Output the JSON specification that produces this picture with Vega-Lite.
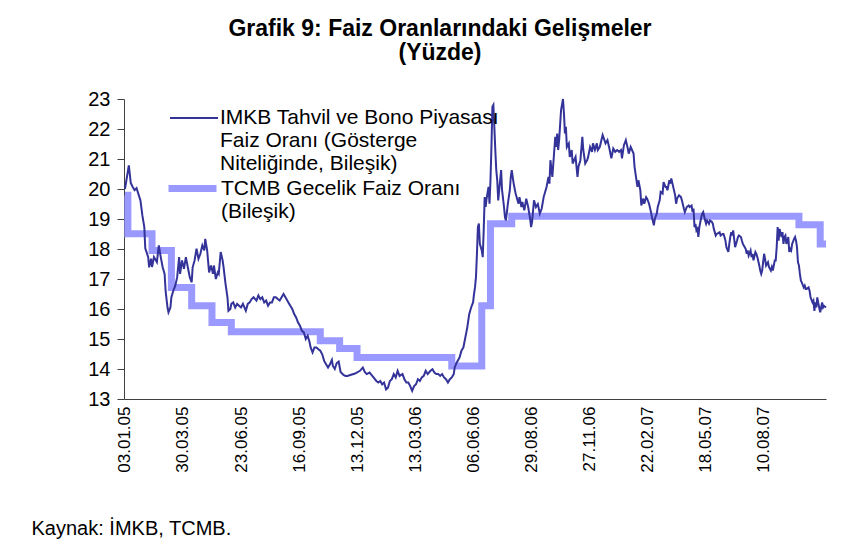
{
  "$schema": "https://vega.github.io/schema/vega-lite/v6.json",
  "width": 702,
  "height": 300,
  "autosize": {"type": "none"},
  "padding": {"left": 124, "top": 99, "right": 42, "bottom": 147},
  "background": "white",
  "title": {
    "text": ["Grafik 9: Faiz Oranlarındaki Gelişmeler", "(Yüzde)"],
    "font": "Liberation Sans",
    "fontSize": 23,
    "fontWeight": "bold",
    "color": "black",
    "anchor": "middle",
    "frame": "group",
    "dx": -35,
    "offset": 24,
    "lineHeight": 24
  },
  "config": {
    "view": {"stroke": null},
    "font": "Liberation Sans",
    "axis": {"labelColor": "black", "domainColor": "#404040", "tickColor": "#404040", "grid": false, "labelFont": "Liberation Sans", "titleFont": "Liberation Sans"}
  },
  "data": {"values": [
    {"s":"T","g":0,"v":19.79},{"s":"T","g":3,"v":18.51},{"s":"T","g":28,"v":17.95},{"s":"T","g":48,"v":16.72},{"s":"T","g":69,"v":16.11},{"s":"T","g":90,"v":15.55},{"s":"T","g":110,"v":15.24},{"s":"T","g":202,"v":14.94},{"s":"T","g":222,"v":14.68},{"s":"T","g":240,"v":14.38},{"s":"T","g":338,"v":14.1},{"s":"T","g":369,"v":16.11},{"s":"T","g":378,"v":18.84},{"s":"T","g":400,"v":19.09},{"s":"T","g":697,"v":18.81},{"s":"T","g":719,"v":18.17},{"s":"T","g":725,"v":18.17},
    {"s":"I","g":0,"v":20.0},{"s":"I","g":4,"v":20.79},{"s":"I","g":6,"v":20.2},{"s":"I","g":8,"v":20.07},{"s":"I","g":10,"v":19.96},{"s":"I","g":12,"v":20.03},{"s":"I","g":16,"v":19.62},{"s":"I","g":18,"v":19.12},{"s":"I","g":20,"v":18.73},{"s":"I","g":21,"v":18.02},{"s":"I","g":24,"v":17.73},{"s":"I","g":25,"v":17.39},{"s":"I","g":27,"v":17.68},{"s":"I","g":28,"v":17.4},{"s":"I","g":30,"v":17.73},{"s":"I","g":33,"v":17.56},{"s":"I","g":35,"v":18.12},{"s":"I","g":37,"v":17.73},{"s":"I","g":39,"v":17.39},{"s":"I","g":41,"v":17.17},{"s":"I","g":42,"v":16.61},{"s":"I","g":44,"v":16.05},{"s":"I","g":45,"v":15.89},{"s":"I","g":47,"v":16.05},{"s":"I","g":48,"v":16.39},{"s":"I","g":50,"v":16.61},{"s":"I","g":52,"v":16.78},{"s":"I","g":54,"v":17.06},{"s":"I","g":56,"v":17.73},{"s":"I","g":57,"v":17.17},{"s":"I","g":59,"v":17.62},{"s":"I","g":61,"v":17.34},{"s":"I","g":63,"v":17.73},{"s":"I","g":65,"v":17.39},{"s":"I","g":67,"v":17.06},{"s":"I","g":69,"v":16.89},{"s":"I","g":70,"v":17.39},{"s":"I","g":72,"v":17.62},{"s":"I","g":74,"v":18.01},{"s":"I","g":76,"v":17.67},{"s":"I","g":78,"v":17.84},{"s":"I","g":80,"v":18.12},{"s":"I","g":82,"v":17.95},{"s":"I","g":83,"v":18.34},{"s":"I","g":85,"v":17.95},{"s":"I","g":87,"v":17.22},{"s":"I","g":89,"v":17.45},{"s":"I","g":91,"v":17.17},{"s":"I","g":92,"v":17.45},{"s":"I","g":94,"v":17.0},{"s":"I","g":96,"v":17.22},{"s":"I","g":97,"v":17.17},{"s":"I","g":99,"v":17.9},{"s":"I","g":101,"v":17.62},{"s":"I","g":102,"v":17.39},{"s":"I","g":104,"v":16.84},{"s":"I","g":106,"v":16.39},{"s":"I","g":107,"v":15.94},{"s":"I","g":109,"v":16.0},{"s":"I","g":110,"v":16.17},{"s":"I","g":112,"v":16.22},{"s":"I","g":114,"v":16.05},{"s":"I","g":116,"v":16.17},{"s":"I","g":118,"v":16.11},{"s":"I","g":120,"v":16.05},{"s":"I","g":122,"v":16.17},{"s":"I","g":125,"v":15.94},{"s":"I","g":127,"v":16.17},{"s":"I","g":129,"v":16.22},{"s":"I","g":131,"v":16.33},{"s":"I","g":133,"v":16.39},{"s":"I","g":136,"v":16.28},{"s":"I","g":138,"v":16.45},{"s":"I","g":140,"v":16.33},{"s":"I","g":142,"v":16.39},{"s":"I","g":144,"v":16.22},{"s":"I","g":146,"v":16.28},{"s":"I","g":148,"v":16.11},{"s":"I","g":150,"v":16.22},{"s":"I","g":152,"v":16.22},{"s":"I","g":154,"v":16.39},{"s":"I","g":156,"v":16.39},{"s":"I","g":158,"v":16.33},{"s":"I","g":160,"v":16.28},{"s":"I","g":162,"v":16.39},{"s":"I","g":164,"v":16.5},{"s":"I","g":167,"v":16.33},{"s":"I","g":169,"v":16.22},{"s":"I","g":171,"v":16.11},{"s":"I","g":173,"v":16.0},{"s":"I","g":175,"v":15.83},{"s":"I","g":177,"v":15.72},{"s":"I","g":179,"v":15.55},{"s":"I","g":181,"v":15.44},{"s":"I","g":183,"v":15.27},{"s":"I","g":185,"v":15.22},{"s":"I","g":187,"v":15.0},{"s":"I","g":189,"v":15.11},{"s":"I","g":191,"v":14.88},{"s":"I","g":192,"v":14.72},{"s":"I","g":194,"v":14.55},{"s":"I","g":196,"v":14.72},{"s":"I","g":198,"v":14.72},{"s":"I","g":200,"v":14.66},{"s":"I","g":202,"v":14.61},{"s":"I","g":204,"v":14.49},{"s":"I","g":206,"v":14.27},{"s":"I","g":208,"v":14.16},{"s":"I","g":210,"v":14.05},{"s":"I","g":212,"v":14.16},{"s":"I","g":214,"v":14.3},{"s":"I","g":215,"v":14.1},{"s":"I","g":217,"v":14.0},{"s":"I","g":219,"v":14.2},{"s":"I","g":221,"v":14.25},{"s":"I","g":223,"v":13.9},{"s":"I","g":226,"v":13.8},{"s":"I","g":228,"v":13.77},{"s":"I","g":230,"v":13.77},{"s":"I","g":233,"v":13.8},{"s":"I","g":238,"v":13.85},{"s":"I","g":243,"v":13.94},{"s":"I","g":246,"v":14.05},{"s":"I","g":248,"v":13.9},{"s":"I","g":250,"v":13.83},{"s":"I","g":253,"v":13.88},{"s":"I","g":257,"v":13.72},{"s":"I","g":260,"v":13.6},{"s":"I","g":262,"v":13.55},{"s":"I","g":264,"v":13.6},{"s":"I","g":266,"v":13.49},{"s":"I","g":268,"v":13.55},{"s":"I","g":270,"v":13.32},{"s":"I","g":272,"v":13.38},{"s":"I","g":274,"v":13.6},{"s":"I","g":276,"v":13.66},{"s":"I","g":278,"v":13.83},{"s":"I","g":280,"v":13.72},{"s":"I","g":282,"v":13.94},{"s":"I","g":284,"v":13.77},{"s":"I","g":287,"v":13.83},{"s":"I","g":289,"v":13.66},{"s":"I","g":291,"v":13.55},{"s":"I","g":293,"v":13.55},{"s":"I","g":295,"v":13.43},{"s":"I","g":297,"v":13.27},{"s":"I","g":299,"v":13.43},{"s":"I","g":301,"v":13.49},{"s":"I","g":303,"v":13.66},{"s":"I","g":305,"v":13.6},{"s":"I","g":307,"v":13.72},{"s":"I","g":309,"v":13.77},{"s":"I","g":311,"v":13.94},{"s":"I","g":313,"v":13.83},{"s":"I","g":316,"v":13.94},{"s":"I","g":318,"v":13.99},{"s":"I","g":320,"v":13.88},{"s":"I","g":322,"v":13.83},{"s":"I","g":324,"v":13.83},{"s":"I","g":326,"v":13.77},{"s":"I","g":328,"v":13.83},{"s":"I","g":330,"v":13.72},{"s":"I","g":332,"v":13.66},{"s":"I","g":334,"v":13.55},{"s":"I","g":336,"v":13.66},{"s":"I","g":338,"v":13.72},{"s":"I","g":340,"v":13.83},{"s":"I","g":341,"v":14.05},{"s":"I","g":343,"v":14.21},{"s":"I","g":346,"v":14.38},{"s":"I","g":348,"v":14.61},{"s":"I","g":350,"v":14.72},{"s":"I","g":352,"v":15.05},{"s":"I","g":354,"v":15.38},{"s":"I","g":356,"v":15.83},{"s":"I","g":358,"v":16.05},{"s":"I","g":360,"v":16.22},{"s":"I","g":361,"v":16.5},{"s":"I","g":362,"v":16.72},{"s":"I","g":363,"v":17.06},{"s":"I","g":364,"v":17.84},{"s":"I","g":365,"v":18.73},{"s":"I","g":366,"v":18.85},{"s":"I","g":367,"v":18.17},{"s":"I","g":369,"v":17.95},{"s":"I","g":370,"v":17.73},{"s":"I","g":371,"v":18.62},{"s":"I","g":372,"v":19.73},{"s":"I","g":373,"v":19.4},{"s":"I","g":374,"v":19.68},{"s":"I","g":376,"v":20.07},{"s":"I","g":377,"v":19.51},{"s":"I","g":378,"v":20.29},{"s":"I","g":379,"v":21.4},{"s":"I","g":380,"v":22.74},{"s":"I","g":381,"v":22.8},{"s":"I","g":382,"v":22.07},{"s":"I","g":383,"v":21.3},{"s":"I","g":384,"v":20.63},{"s":"I","g":385,"v":20.29},{"s":"I","g":386,"v":19.62},{"s":"I","g":388,"v":20.29},{"s":"I","g":389,"v":20.63},{"s":"I","g":390,"v":19.96},{"s":"I","g":392,"v":19.4},{"s":"I","g":393,"v":19.06},{"s":"I","g":394,"v":18.95},{"s":"I","g":396,"v":19.51},{"s":"I","g":398,"v":19.96},{"s":"I","g":399,"v":20.4},{"s":"I","g":400,"v":20.63},{"s":"I","g":401,"v":20.4},{"s":"I","g":402,"v":20.18},{"s":"I","g":404,"v":19.85},{"s":"I","g":407,"v":19.51},{"s":"I","g":408,"v":19.73},{"s":"I","g":410,"v":19.4},{"s":"I","g":411,"v":19.57},{"s":"I","g":413,"v":19.29},{"s":"I","g":415,"v":19.68},{"s":"I","g":417,"v":19.4},{"s":"I","g":419,"v":19.01},{"s":"I","g":420,"v":18.73},{"s":"I","g":421,"v":18.9},{"s":"I","g":423,"v":19.62},{"s":"I","g":425,"v":19.4},{"s":"I","g":427,"v":19.5},{"s":"I","g":429,"v":19.18},{"s":"I","g":431,"v":19.35},{"s":"I","g":433,"v":19.73},{"s":"I","g":436,"v":20.07},{"s":"I","g":438,"v":20.4},{"s":"I","g":439,"v":20.18},{"s":"I","g":440,"v":20.96},{"s":"I","g":442,"v":20.4},{"s":"I","g":443,"v":20.85},{"s":"I","g":445,"v":21.74},{"s":"I","g":446,"v":21.4},{"s":"I","g":447,"v":21.85},{"s":"I","g":448,"v":21.3},{"s":"I","g":449,"v":21.63},{"s":"I","g":451,"v":22.63},{"s":"I","g":453,"v":23.0},{"s":"I","g":454,"v":22.52},{"s":"I","g":455,"v":21.85},{"s":"I","g":456,"v":22.07},{"s":"I","g":457,"v":21.4},{"s":"I","g":459,"v":21.52},{"s":"I","g":460,"v":21.07},{"s":"I","g":462,"v":21.3},{"s":"I","g":463,"v":20.85},{"s":"I","g":466,"v":21.07},{"s":"I","g":468,"v":20.4},{"s":"I","g":469,"v":20.74},{"s":"I","g":471,"v":20.96},{"s":"I","g":473,"v":21.74},{"s":"I","g":474,"v":21.3},{"s":"I","g":476,"v":20.85},{"s":"I","g":478,"v":20.96},{"s":"I","g":479,"v":21.07},{"s":"I","g":481,"v":21.4},{"s":"I","g":483,"v":21.24},{"s":"I","g":484,"v":21.52},{"s":"I","g":486,"v":21.3},{"s":"I","g":488,"v":21.52},{"s":"I","g":489,"v":21.3},{"s":"I","g":491,"v":21.4},{"s":"I","g":494,"v":21.8},{"s":"I","g":497,"v":21.52},{"s":"I","g":499,"v":21.63},{"s":"I","g":501,"v":21.35},{"s":"I","g":503,"v":21.02},{"s":"I","g":505,"v":21.35},{"s":"I","g":507,"v":21.24},{"s":"I","g":509,"v":21.3},{"s":"I","g":511,"v":21.24},{"s":"I","g":513,"v":21.3},{"s":"I","g":514,"v":21.02},{"s":"I","g":516,"v":21.46},{"s":"I","g":518,"v":21.63},{"s":"I","g":520,"v":21.35},{"s":"I","g":521,"v":21.18},{"s":"I","g":523,"v":21.4},{"s":"I","g":526,"v":21.18},{"s":"I","g":527,"v":20.74},{"s":"I","g":529,"v":20.29},{"s":"I","g":530,"v":20.07},{"s":"I","g":531,"v":20.29},{"s":"I","g":533,"v":19.96},{"s":"I","g":534,"v":19.45},{"s":"I","g":536,"v":19.68},{"s":"I","g":537,"v":19.51},{"s":"I","g":539,"v":19.73},{"s":"I","g":540,"v":19.68},{"s":"I","g":542,"v":19.51},{"s":"I","g":544,"v":19.23},{"s":"I","g":545,"v":19.06},{"s":"I","g":547,"v":18.79},{"s":"I","g":548,"v":19.01},{"s":"I","g":550,"v":19.18},{"s":"I","g":551,"v":19.4},{"s":"I","g":553,"v":19.62},{"s":"I","g":554,"v":19.9},{"s":"I","g":556,"v":19.85},{"s":"I","g":557,"v":20.23},{"s":"I","g":559,"v":20.07},{"s":"I","g":560,"v":20.07},{"s":"I","g":561,"v":19.96},{"s":"I","g":563,"v":20.29},{"s":"I","g":564,"v":20.18},{"s":"I","g":565,"v":20.35},{"s":"I","g":567,"v":20.07},{"s":"I","g":569,"v":19.79},{"s":"I","g":570,"v":19.51},{"s":"I","g":571,"v":19.68},{"s":"I","g":573,"v":19.79},{"s":"I","g":575,"v":19.73},{"s":"I","g":576,"v":19.62},{"s":"I","g":578,"v":19.35},{"s":"I","g":579,"v":19.23},{"s":"I","g":581,"v":19.4},{"s":"I","g":583,"v":19.45},{"s":"I","g":584,"v":19.4},{"s":"I","g":586,"v":19.45},{"s":"I","g":587,"v":19.23},{"s":"I","g":588,"v":19.35},{"s":"I","g":589,"v":18.73},{"s":"I","g":590,"v":18.84},{"s":"I","g":591,"v":18.62},{"s":"I","g":592,"v":18.67},{"s":"I","g":593,"v":18.4},{"s":"I","g":594,"v":18.73},{"s":"I","g":596,"v":19.06},{"s":"I","g":597,"v":19.18},{"s":"I","g":598,"v":19.23},{"s":"I","g":600,"v":18.95},{"s":"I","g":601,"v":18.84},{"s":"I","g":602,"v":18.95},{"s":"I","g":604,"v":18.84},{"s":"I","g":605,"v":18.95},{"s":"I","g":607,"v":18.9},{"s":"I","g":608,"v":18.84},{"s":"I","g":609,"v":18.67},{"s":"I","g":611,"v":18.45},{"s":"I","g":612,"v":18.5},{"s":"I","g":615,"v":18.56},{"s":"I","g":616,"v":18.45},{"s":"I","g":618,"v":18.5},{"s":"I","g":619,"v":18.5},{"s":"I","g":620,"v":18.4},{"s":"I","g":621,"v":18.28},{"s":"I","g":622,"v":18.06},{"s":"I","g":624,"v":17.9},{"s":"I","g":625,"v":18.17},{"s":"I","g":626,"v":18.4},{"s":"I","g":627,"v":18.56},{"s":"I","g":628,"v":18.45},{"s":"I","g":629,"v":18.62},{"s":"I","g":630,"v":18.34},{"s":"I","g":631,"v":18.06},{"s":"I","g":632,"v":18.17},{"s":"I","g":633,"v":18.28},{"s":"I","g":634,"v":18.4},{"s":"I","g":635,"v":18.45},{"s":"I","g":637,"v":18.4},{"s":"I","g":638,"v":18.28},{"s":"I","g":639,"v":18.17},{"s":"I","g":641,"v":18.06},{"s":"I","g":642,"v":18.0},{"s":"I","g":643,"v":17.84},{"s":"I","g":644,"v":17.95},{"s":"I","g":645,"v":17.78},{"s":"I","g":647,"v":17.95},{"s":"I","g":648,"v":17.73},{"s":"I","g":649,"v":17.84},{"s":"I","g":650,"v":17.62},{"s":"I","g":652,"v":17.9},{"s":"I","g":653,"v":17.84},{"s":"I","g":654,"v":17.73},{"s":"I","g":656,"v":17.45},{"s":"I","g":657,"v":17.28},{"s":"I","g":658,"v":17.17},{"s":"I","g":659,"v":17.28},{"s":"I","g":660,"v":17.56},{"s":"I","g":661,"v":17.84},{"s":"I","g":662,"v":17.67},{"s":"I","g":663,"v":17.45},{"s":"I","g":665,"v":17.56},{"s":"I","g":666,"v":17.4},{"s":"I","g":667,"v":17.34},{"s":"I","g":668,"v":17.28},{"s":"I","g":669,"v":17.4},{"s":"I","g":670,"v":17.28},{"s":"I","g":671,"v":17.45},{"s":"I","g":672,"v":17.62},{"s":"I","g":673,"v":17.62},{"s":"I","g":674,"v":18.06},{"s":"I","g":675,"v":18.73},{"s":"I","g":676,"v":18.28},{"s":"I","g":677,"v":18.67},{"s":"I","g":679,"v":18.4},{"s":"I","g":680,"v":18.56},{"s":"I","g":681,"v":18.17},{"s":"I","g":682,"v":18.4},{"s":"I","g":683,"v":18.45},{"s":"I","g":684,"v":18.17},{"s":"I","g":685,"v":18.28},{"s":"I","g":686,"v":18.4},{"s":"I","g":687,"v":17.9},{"s":"I","g":688,"v":18.0},{"s":"I","g":689,"v":17.95},{"s":"I","g":690,"v":18.17},{"s":"I","g":692,"v":18.34},{"s":"I","g":693,"v":18.4},{"s":"I","g":694,"v":18.28},{"s":"I","g":695,"v":18.06},{"s":"I","g":696,"v":17.56},{"s":"I","g":697,"v":17.45},{"s":"I","g":698,"v":17.17},{"s":"I","g":699,"v":16.95},{"s":"I","g":700,"v":16.88},{"s":"I","g":702,"v":16.72},{"s":"I","g":703,"v":16.78},{"s":"I","g":704,"v":16.67},{"s":"I","g":705,"v":16.67},{"s":"I","g":707,"v":16.72},{"s":"I","g":708,"v":16.61},{"s":"I","g":709,"v":16.39},{"s":"I","g":711,"v":16.22},{"s":"I","g":712,"v":16.28},{"s":"I","g":713,"v":15.94},{"s":"I","g":714,"v":16.22},{"s":"I","g":715,"v":16.05},{"s":"I","g":716,"v":16.39},{"s":"I","g":717,"v":16.2},{"s":"I","g":719,"v":15.89},{"s":"I","g":720,"v":16.05},{"s":"I","g":721,"v":16.22},{"s":"I","g":722,"v":16.05},{"s":"I","g":723,"v":16.1},{"s":"I","g":725,"v":16.05}
  ]},
  "encoding": {
    "x": {
      "field": "g", "type": "quantitative",
      "scale": {"domain": [-1, 725], "nice": false, "zero": false},
      "axis": {
        "values": [0, 60, 120, 180, 240, 300, 360, 420, 480, 540, 600, 660],
        "labelExpr": "['03.01.05','30.03.05','23.06.05','16.09.05','13.12.05','13.03.06','06.06.06','29.08.06','27.11.06','22.02.07','18.05.07','10.08.07'][round(datum.value/60)]",
        "labelAngle": -90,
        "labelFontSize": 17,
        "labelPadding": 7,
        "labelFlush": false,
        "labelOverlap": false,
        "labelBound": false,
        "ticks": false,
        "title": "Kaynak: İMKB, TCMB.",
        "titleFontSize": 20,
        "titleFontWeight": "normal",
        "titleColor": "black",
        "titleX": -93,
        "titleY": 135,
        "titleAlign": "left",
        "titleBaseline": "alphabetic",
        "titleAnchor": "start"
      }
    },
    "y": {
      "field": "v", "type": "quantitative",
      "scale": {"domain": [13, 23], "nice": false, "zero": false},
      "axis": {
        "values": [13, 14, 15, 16, 17, 18, 19, 20, 21, 22, 23],
        "labelFontSize": 20,
        "tickSize": 7,
        "labelPadding": 7,
        "title": null
      }
    }
  },
  "layer": [
    {
      "transform": [{"filter": "datum.s == 'T'"}],
      "mark": {"type": "line", "interpolate": "step-after", "strokeWidth": 7},
      "encoding": {
        "color": {
          "field": "s", "type": "nominal",
          "scale": {"domain": ["T"], "range": ["#9999ff"]},
          "legend": {"orient": "none", "legendX": 41, "legendY": 62, "title": null, "padding": 0, "symbolType": "stroke", "symbolSize": 2304, "symbolStrokeWidth": 7, "symbolOpacity": 1, "labelFontSize": 21, "labelFont": "Liberation Sans", "labelColor": "black", "labelBaseline": "middle", "labelOffset": 1, "labelLimit": 0, "labelExpr": "['TCMB Gecelik Faiz Oranı', '(Bileşik)']"}
        }
      }
    },
    {
      "transform": [{"filter": "datum.s == 'I'"}],
      "mark": {"type": "line", "strokeWidth": 2},
      "encoding": {
        "color": {
          "field": "s", "type": "nominal",
          "scale": {"domain": ["I"], "range": ["#333399"]},
          "legend": {"orient": "none", "legendX": 45, "legendY": -6, "title": null, "padding": 0, "symbolType": "stroke", "symbolSize": 2304, "symbolStrokeWidth": 2, "symbolOpacity": 1, "labelFontSize": 21, "labelFont": "Liberation Sans", "labelColor": "black", "labelBaseline": "middle", "labelOffset": 1, "labelLimit": 0, "labelExpr": "['IMKB Tahvil ve Bono Piyasası', 'Faiz Oranı (Gösterge', 'Niteliğinde, Bileşik)']"}
        }
      }
    }
  ],
  "resolve": {"scale": {"color": "independent"}}
}
